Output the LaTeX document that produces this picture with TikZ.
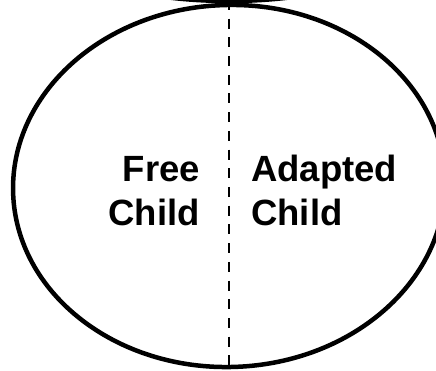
\documentclass[tikz,border=0pt]{standalone}
\usepackage{fontspec}
\setmainfont{Liberation Sans}
\usetikzlibrary{shapes.geometric}

\begin{document}
\begin{tikzpicture}[
	x=1pt, y=-1pt,
	estado/.style={ellipse, draw=black, line width=4.5pt, inner sep=0pt},
	etiqueta/.style={font=\fontsize{36.5}{44}\selectfont\bfseries, inner sep=0pt},
	division/.style={draw=black, line width=2pt, dash pattern=on 10pt off 8.7pt},
	]
\useasboundingbox (0,0) rectangle (436,371);

% Estados del yo
\node[estado, minimum width=360pt, minimum height=122pt] (padre) at (229,-60) {};
\node[estado, minimum width=432pt, minimum height=362pt, rotate=2] (nino) at (229,186) {};

% Division del nino
\coordinate (arriba) at (229,0);
\coordinate (abajo) at (229,371);
\draw[division] (arriba) -- (abajo);

\node[etiqueta, align=right, anchor=base east] (libre) at (200,226) {Free\\Child};
\node[etiqueta, align=left, anchor=base west] (adaptado) at (251,226) {Adapted\\Child};

\end{tikzpicture}
\end{document}
